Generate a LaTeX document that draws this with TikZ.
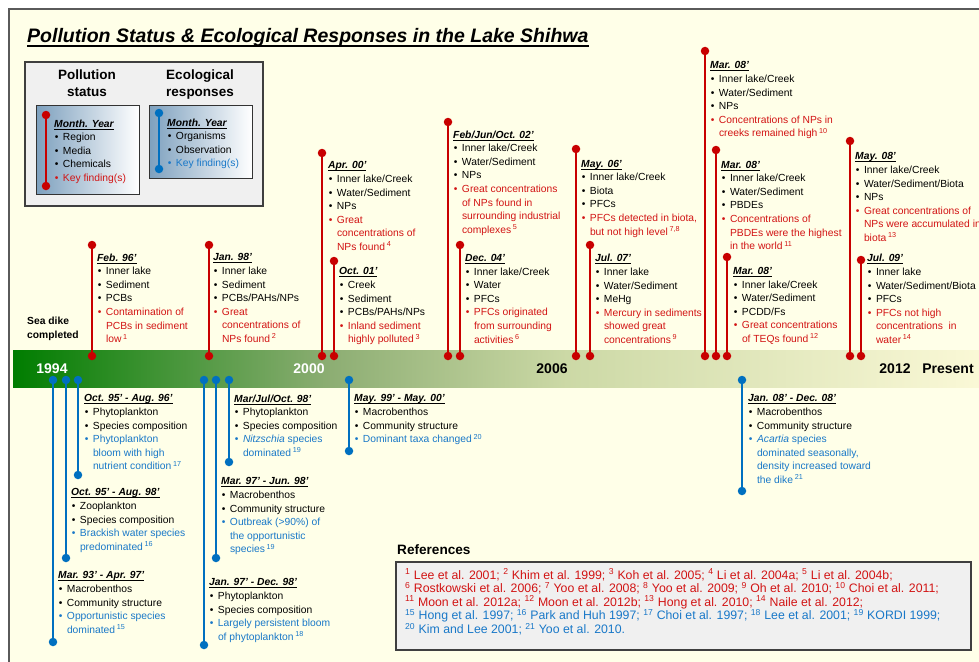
\documentclass[tikz,border=0pt]{standalone}
\usepackage{fontspec}
\setmainfont{Liberation Sans}
\definecolor{bgyel}{RGB}{255,255,232}
\definecolor{framegray}{RGB}{90,90,90}
\definecolor{legfill}{RGB}{240,240,240}
\definecolor{lgblue}{RGB}{125,160,190}
\definecolor{lred}{RGB}{200,0,0}
\definecolor{tred}{RGB}{210,20,20}
\definecolor{lblue}{RGB}{0,112,192}
\definecolor{tblue}{RGB}{25,120,200}
\pgfdeclarehorizontalshading{barshade}{100bp}{rgb(0bp)=(0,0.49,0); rgb(25bp)=(0,0.49,0); rgb(41bp)=(0.55,0.68,0.45); rgb(53bp)=(0.80,0.85,0.65); rgb(75bp)=(0.99,0.98,0.85); rgb(100bp)=(0.99,0.98,0.85)}
\newsavebox\ttlbox
\newcommand\ttl[1]{\sbox\ttlbox{\bfseries\itshape #1}\rlap{\rule[-2.3pt]{\wd\ttlbox}{0.9pt}}\usebox\ttlbox}
\newcommand\bu{\makebox[8.8pt][l]{\hspace{0.6pt}•}}
\newcommand\indnt{\hspace*{8.8pt}}
\newcommand\sps[1]{\,\textsuperscript{#1}}
\newcommand\RT[1]{\textcolor{tred}{#1}}
\newcommand\BT[1]{\textcolor{tblue}{#1}}
\tikzset{
  rdot/.style={circle, fill=lred, inner sep=0pt, minimum size=8.5pt},
  bdot/.style={circle, fill=lblue, inner sep=0pt, minimum size=8.5pt},
  rline/.style={draw=lred, line width=1.6pt},
  bline/.style={draw=lblue, line width=1.6pt},
  itemtext/.style={anchor=north west, inner sep=0pt, align=left, font=\fontsize{10.3}{13.6}\selectfont},
  reftext/.style={anchor=north west, inner sep=0pt, align=left, font=\fontsize{12.3}{13.6}\selectfont},
  yearw/.style={inner sep=0pt, font=\fontsize{14}{16}\selectfont\bfseries, text=white},
  yeark/.style={inner sep=0pt, font=\fontsize{14}{16}\selectfont\bfseries, text=black},
  headtext/.style={inner sep=0pt, align=center, font=\fontsize{13.5}{17}\selectfont\bfseries},
  graybox/.style={draw=framegray!70!black, fill=legfill, line width=1.2pt}
}
\begin{document}
\begin{tikzpicture}[x=1pt,y=-1pt]
\path[use as bounding box] (0,0) rectangle (979,661);
\clip (0,0) rectangle (979,661);
\fill[white] (0,0) rectangle (979,661);
\fill[bgyel] (9,9) rectangle (1000,680);
\draw[framegray, line width=1.5pt] (9,9) rectangle (1000,680);

% title
\node[anchor=base west, inner sep=0pt, font=\fontsize{19.5}{22}\selectfont\bfseries\itshape] (title) at (27,43) {Pollution Status \& Ecological Responses in the Lake Shihwa};
\draw[line width=1.6pt] ([yshift=-3pt]title.base west) -- ([yshift=-3pt]title.base east);

% legend
\draw[graybox] (25,62) rectangle (263,206);
\node[headtext] (lgph) at (87,83.5) {Pollution\\status};
\node[headtext] (lgeh) at (200,84.5) {Ecological\\responses};
\shade[left color=lgblue, right color=white, draw=black!80, line width=0.9pt] (36,105) rectangle (139,194);
\shade[left color=lgblue, right color=white, draw=black!80, line width=0.9pt] (149,105) rectangle (252,178);
\node[rdot] (lgr1) at (46,115) {};
\node[rdot] (lgr2) at (46,186) {};
\draw[rline] (lgr1) -- (lgr2);
\node[bdot] (lgb1) at (159,113) {};
\node[bdot] (lgb2) at (159,169) {};
\draw[bline] (lgb1) -- (lgb2);
\node[itemtext] (lgpt) at (54,119.5) {\ttl{Month. Year}\\\bu Region\\\bu Media\\\bu Chemicals\\\RT{\bu Key finding(s)}};
\node[itemtext] (lget) at (167,118.5) {\ttl{Month. Year}\\\bu Organisms\\\bu Observation\\\BT{\bu Key finding(s)}};

% timeline bar
\shade[shading=barshade] (13,350) rectangle (1000,387);
\node[yearw] (y1994) at (52,369) {1994};
\node[yearw] (y2000) at (309,369) {2000};
\node[yeark] (y2006) at (552,369) {2006};
\node[yeark] (y2012) at (895,369) {2012};
\node[yeark] (ypres) at (948,369) {Present};
\node[anchor=west, inner sep=0pt, align=left, font=\fontsize{10.3}{14}\selectfont\bfseries] (dike) at (27,329) {Sea dike\\completed};

% ---------- pollution status (red) ----------
\node[rdot] (r1t) at (92,245) {};   \node[rdot] (r1b) at (92,356) {};   \draw[rline] (r1t) -- (r1b);
\node[rdot] (r2t) at (209,245) {};  \node[rdot] (r2b) at (209,356) {};  \draw[rline] (r2t) -- (r2b);
\node[rdot] (r3t) at (322,153) {};  \node[rdot] (r3b) at (322,356) {};  \draw[rline] (r3t) -- (r3b);
\node[rdot] (r4t) at (334,261) {};  \node[rdot] (r4b) at (334,356) {};  \draw[rline] (r4t) -- (r4b);
\node[rdot] (r5t) at (448,122) {};  \node[rdot] (r5b) at (448,356) {};  \draw[rline] (r5t) -- (r5b);
\node[rdot] (r6t) at (460,245) {};  \node[rdot] (r6b) at (460,356) {};  \draw[rline] (r6t) -- (r6b);
\node[rdot] (r7t) at (576,149) {};  \node[rdot] (r7b) at (576,356) {};  \draw[rline] (r7t) -- (r7b);
\node[rdot] (r8t) at (590,245) {};  \node[rdot] (r8b) at (590,356) {};  \draw[rline] (r8t) -- (r8b);
\node[rdot] (r9t) at (705,51) {};   \node[rdot] (r9b) at (705,356) {};  \draw[rline] (r9t) -- (r9b);
\node[rdot] (r10t) at (716,150) {}; \node[rdot] (r10b) at (716,356) {}; \draw[rline] (r10t) -- (r10b);
\node[rdot] (r11t) at (727,257) {}; \node[rdot] (r11b) at (727,356) {}; \draw[rline] (r11t) -- (r11b);
\node[rdot] (r12t) at (850,141) {}; \node[rdot] (r12b) at (850,356) {}; \draw[rline] (r12t) -- (r12b);
\node[rdot] (r13t) at (861,260) {}; \node[rdot] (r13b) at (861,356) {}; \draw[rline] (r13t) -- (r13b);

\node[itemtext] (r1x) at (97,253.5) {\ttl{Feb. 96’}\\\bu Inner lake\\\bu Sediment\\\bu PCBs\\\RT{\bu Contamination of}\\\RT{\indnt PCBs in sediment}\\\RT{\indnt low\sps{1}}};
\node[itemtext] (r2x) at (213,253.5) {\ttl{Jan. 98’}\\\bu Inner lake\\\bu Sediment\\\bu PCBs/PAHs/NPs\\\RT{\bu Great}\\\RT{\indnt concentrations of}\\\RT{\indnt NPs found\sps{2}}};
\node[itemtext] (r3x) at (328,161.5) {\ttl{Apr. 00’}\\\bu Inner lake/Creek\\\bu Water/Sediment\\\bu NPs\\\RT{\bu Great}\\\RT{\indnt concentrations of}\\\RT{\indnt NPs found\sps{4}}};
\node[itemtext] (r4x) at (339,267.5) {\ttl{Oct. 01’}\\\bu Creek\\\bu Sediment\\\bu PCBs/PAHs/NPs\\\RT{\bu Inland sediment}\\\RT{\indnt highly polluted\sps{3}}};
\node[itemtext] (r5x) at (453,130.5) {\ttl{Feb/Jun/Oct. 02’}\\\bu Inner lake/Creek\\\bu Water/Sediment\\\bu NPs\\\RT{\bu Great concentrations}\\\RT{\indnt of NPs found in}\\\RT{\indnt surrounding industrial}\\\RT{\indnt complexes\sps{5}}};
\node[itemtext] (r6x) at (465,254.2) {\ttl{Dec. 04’}\\\bu Inner lake/Creek\\\bu Water\\\bu PFCs\\\RT{\bu PFCs originated}\\\RT{\indnt from surrounding}\\\RT{\indnt activities\sps{6}}};
\node[itemtext] (r7x) at (581,159.8) {\ttl{May. 06’}\\\bu Inner lake/Creek\\\bu Biota\\\bu PFCs\\\RT{\bu PFCs detected in biota,}\\\RT{\indnt but not high level\sps{7,8}}};
\node[itemtext] (r8x) at (595,254.2) {\ttl{Jul. 07’}\\\bu Inner lake\\\bu Water/Sediment\\\bu MeHg\\\RT{\bu Mercury in sediments}\\\RT{\indnt showed great}\\\RT{\indnt concentrations\sps{9}}};
\node[itemtext] (r9x) at (710,61.5) {\ttl{Mar. 08’}\\\bu Inner lake/Creek\\\bu Water/Sediment\\\bu NPs\\\RT{\bu Concentrations of NPs in}\\\RT{\indnt creeks remained high\sps{10}}};
\node[itemtext] (r10x) at (721,160.8) {\ttl{Mar. 08’}\\\bu Inner lake/Creek\\\bu Water/Sediment\\\bu PBDEs\\\RT{\bu Concentrations of}\\\RT{\indnt PBDEs were the highest}\\\RT{\indnt in the world\sps{11}}};
\node[itemtext] (r11x) at (733,267.2) {\ttl{Mar. 08’}\\\bu Inner lake/Creek\\\bu Water/Sediment\\\bu PCDD/Fs\\\RT{\bu Great concentrations}\\\RT{\indnt of TEQs found\sps{12}}};
\node[itemtext] (r12x) at (855,152.5) {\ttl{May. 08’}\\\bu Inner lake/Creek\\\bu Water/Sediment/Biota\\\bu NPs\\\RT{\bu Great concentrations of}\\\RT{\indnt NPs were accumulated in}\\\RT{\indnt biota\sps{13}}};
\node[itemtext] (r13x) at (867,254.2) {\ttl{Jul. 09’}\\\bu Inner lake\\\bu Water/Sediment/Biota\\\bu PFCs\\\RT{\bu PFCs not high}\\\RT{\indnt concentrations\ \ in}\\\RT{\indnt water\sps{14}}};

% ---------- ecological responses (blue) ----------
\node[bdot] (b1t) at (78,380) {};  \node[bdot] (b1b) at (78,475) {};  \draw[bline] (b1t) -- (b1b);
\node[bdot] (b2t) at (66,380) {};  \node[bdot] (b2b) at (66,558) {};  \draw[bline] (b2t) -- (b2b);
\node[bdot] (b3t) at (53,380) {};  \node[bdot] (b3b) at (53,642) {};  \draw[bline] (b3t) -- (b3b);
\node[bdot] (b4t) at (229,380) {}; \node[bdot] (b4b) at (229,462) {}; \draw[bline] (b4t) -- (b4b);
\node[bdot] (b5t) at (216,380) {}; \node[bdot] (b5b) at (216,558) {}; \draw[bline] (b5t) -- (b5b);
\node[bdot] (b6t) at (204,380) {}; \node[bdot] (b6b) at (204,645) {}; \draw[bline] (b6t) -- (b6b);
\node[bdot] (b7t) at (349,380) {}; \node[bdot] (b7b) at (349,451) {}; \draw[bline] (b7t) -- (b7b);
\node[bdot] (b8t) at (742,380) {}; \node[bdot] (b8b) at (742,491) {}; \draw[bline] (b8t) -- (b8b);

\node[itemtext] (b1x) at (84,394.5) {\ttl{Oct. 95’ - Aug. 96’}\\\bu Phytoplankton\\\bu Species composition\\\BT{\bu Phytoplankton}\\\BT{\indnt bloom with high}\\\BT{\indnt nutrient condition\sps{17}}};
\node[itemtext] (b2x) at (71,488.5) {\ttl{Oct. 95’ - Aug. 98’}\\\bu Zooplankton\\\bu Species composition\\\BT{\bu Brackish water species}\\\BT{\indnt predominated\sps{16}}};
\node[itemtext] (b3x) at (58,571.5) {\ttl{Mar. 93’ - Apr. 97’}\\\bu Macrobenthos\\\bu Community structure\\\BT{\bu Opportunistic species}\\\BT{\indnt dominated\sps{15}}};
\node[itemtext] (b4x) at (234,394.5) {\ttl{Mar/Jul/Oct. 98’}\\\bu Phytoplankton\\\bu Species composition\\\BT{\bu \textit{Nitzschia} species}\\\BT{\indnt dominated\sps{19}}};
\node[itemtext] (b5x) at (221,477.5) {\ttl{Mar. 97’ - Jun. 98’}\\\bu Macrobenthos\\\bu Community structure\\\BT{\bu Outbreak (>90\%) of}\\\BT{\indnt the opportunistic}\\\BT{\indnt species\sps{19}}};
\node[itemtext] (b6x) at (209,578.5) {\ttl{Jan. 97’ - Dec. 98’}\\\bu Phytoplankton\\\bu Species composition\\\BT{\bu Largely persistent bloom}\\\BT{\indnt of phytoplankton\sps{18}}};
\node[itemtext] (b7x) at (354,394.5) {\ttl{May. 99’ - May. 00’}\\\bu Macrobenthos\\\bu Community structure\\\BT{\bu Dominant taxa changed\sps{20}}};
\node[itemtext] (b8x) at (748,394.5) {\ttl{Jan. 08’ - Dec. 08’}\\\bu Macrobenthos\\\bu Community structure\\\BT{\bu \textit{Acartia} species}\\\BT{\indnt dominated seasonally,}\\\BT{\indnt density increased toward}\\\BT{\indnt the dike\sps{21}}};

% ---------- references ----------
\node[anchor=west, inner sep=0pt, font=\fontsize{13.6}{15}\selectfont\bfseries] (refh) at (397,550) {References};
\draw[graybox] (396,562) rectangle (971,650);
\node[reftext] (reft) at (405,568.5) {%
\RT{\textsuperscript{1} Lee et al. 2001; \textsuperscript{2} Khim et al. 1999; \textsuperscript{3} Koh et al. 2005; \textsuperscript{4} Li et al. 2004a; \textsuperscript{5} Li et al. 2004b;}\\
\RT{\textsuperscript{6} Rostkowski et al. 2006; \textsuperscript{7} Yoo et al. 2008; \textsuperscript{8} Yoo et al. 2009; \textsuperscript{9} Oh et al. 2010; \textsuperscript{10} Choi et al. 2011;}\\
\RT{\textsuperscript{11} Moon et al. 2012a; \textsuperscript{12} Moon et al. 2012b; \textsuperscript{13} Hong et al. 2010; \textsuperscript{14} Naile et al. 2012;}\\
\BT{\textsuperscript{15} Hong et al. 1997; \textsuperscript{16} Park and Huh 1997; \textsuperscript{17} Choi et al. 1997; \textsuperscript{18} Lee et al. 2001; \textsuperscript{19} KORDI 1999;}\\
\BT{\textsuperscript{20} Kim and Lee 2001; \textsuperscript{21} Yoo et al. 2010.}};
\end{tikzpicture}
\end{document}
